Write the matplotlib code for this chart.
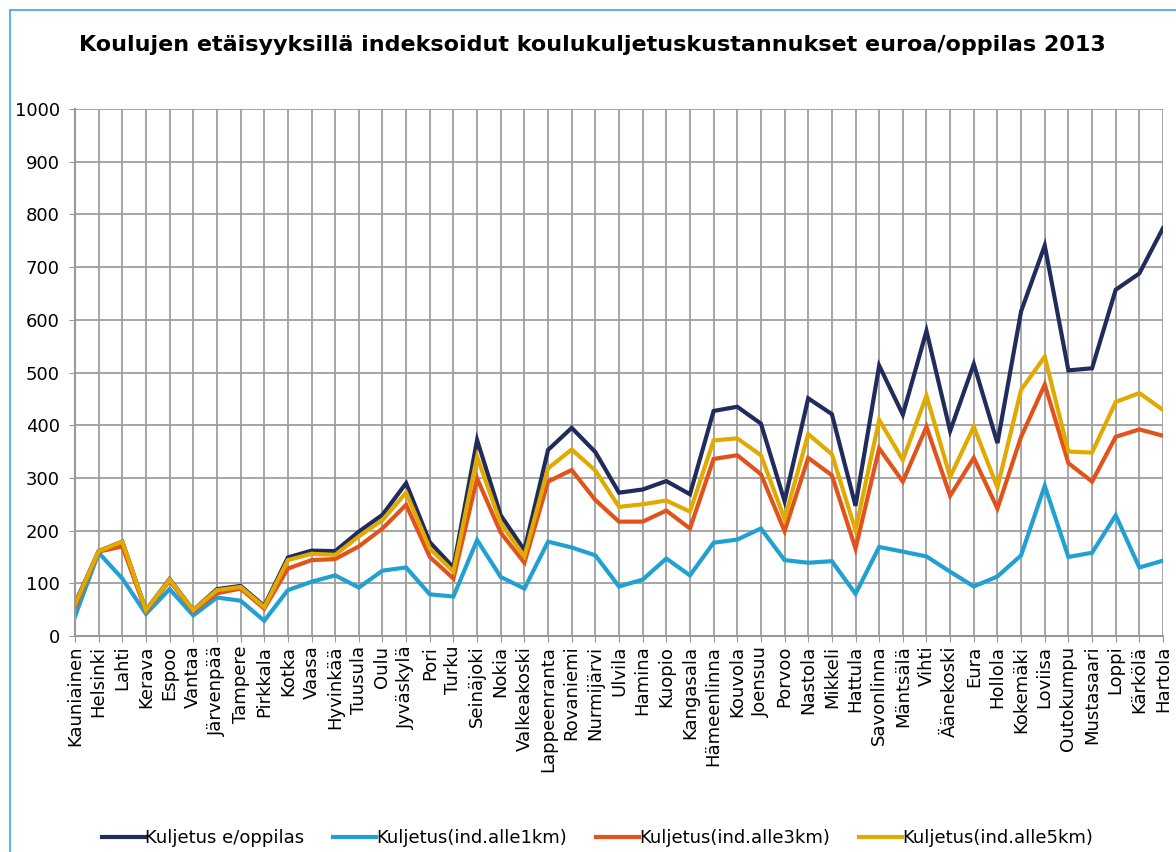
import matplotlib
matplotlib.use("Agg")
import matplotlib.pyplot as plt
from matplotlib.patches import Rectangle

kunnat = ["Kauniainen", "Helsinki", "Lahti", "Kerava", "Espoo", "Vantaa", "Järvenpää",
          "Tampere", "Pirkkala", "Kotka", "Vaasa", "Hyvinkää", "Tuusula", "Oulu",
          "Jyväskylä", "Pori", "Turku", "Seinäjoki", "Nokia", "Valkeakoski",
          "Lappeenranta", "Rovaniemi", "Nurmijärvi", "Ulvila", "Hamina", "Kuopio",
          "Kangasala", "Hämeenlinna", "Kouvola", "Joensuu", "Porvoo", "Nastola",
          "Mikkeli", "Hattula", "Savonlinna", "Mäntsälä", "Vihti", "Äänekoski", "Eura",
          "Hollola", "Kokemäki", "Loviisa", "Outokumpu", "Mustasaari", "Loppi",
          "Kärkölä", "Hartola"]

# Kuljetus e/oppilas
kuljetus = [62, 161, 179, 49, 108, 49, 89, 95, 57, 149, 162, 161, 198, 230, 290, 178,
            130, 372, 229, 163, 353, 395, 349, 272, 278, 294, 269, 427, 435, 403, 256,
            451, 421, 247, 513, 420, 579, 389, 516, 366, 616, 741, 504, 508, 657, 688, 774]
# Kuljetus(ind.alle1km)
alle1 = [37, 158, 109, 42, 89, 39, 73, 67, 29, 87, 103, 115, 92, 124, 130, 79,
         75, 182, 112, 90, 179, 168, 153, 94, 107, 147, 115, 177, 183, 204, 144,
         139, 142, 80, 169, 160, 151, 122, 94, 113, 153, 285, 150, 158, 229, 130, 143]
# Kuljetus(ind.alle3km)
alle3 = [55, 160, 170, 47, 105, 47, 81, 90, 52, 128, 144, 146, 170, 204, 249, 150,
         109, 299, 196, 139, 293, 315, 258, 217, 217, 238, 204, 336, 343, 307, 199,
         338, 305, 166, 356, 293, 397, 266, 338, 242, 378, 477, 328, 293, 378, 392, 380]
# Kuljetus(ind.alle5km)
alle5 = [60, 161, 179, 49, 107, 49, 87, 93, 55, 144, 156, 154, 189, 220, 272, 166,
         122, 340, 214, 151, 318, 354, 314, 245, 250, 257, 236, 371, 375, 343, 222,
         383, 345, 201, 410, 334, 456, 302, 397, 282, 467, 530, 350, 348, 444, 461, 429]

sarjat = [
    ("Kuljetus e/oppilas", kuljetus, "#1f2c5c"),
    ("Kuljetus(ind.alle1km)", alle1, "#21a0d2"),
    ("Kuljetus(ind.alle3km)", alle3, "#e2531b"),
    ("Kuljetus(ind.alle5km)", alle5, "#e1aa00"),
]

plt.rcParams["font.family"] = ["DejaVu Sans"]
fig = plt.figure(figsize=(11.76, 8.52), dpi=100)
ax = fig.add_axes([75 / 1176, 1 - 636 / 852, (1163 - 75) / 1176, (636 - 109) / 852])

x = list(range(len(kunnat)))
for nimi, arvot, vari in sarjat:
    ax.plot(x, arvot, color=vari, lw=3.0, label=nimi, solid_joinstyle="miter")

ax.set_xlim(0, len(kunnat) - 1)
ax.set_ylim(0, 1000)
ax.set_yticks(range(0, 1001, 100))
ax.set_xticks(x)
ax.set_xticklabels(kunnat, rotation=90, fontsize=13)
ax.tick_params(axis="y", labelsize=13, length=4, color="#999999", pad=7)
ax.tick_params(axis="x", length=4, color="#999999", pad=3)
ax.grid(True, color="#9e9e9e", lw=1.3)
ax.set_axisbelow(True)
for s in ["top", "right"]:
    ax.spines[s].set_visible(False)
for s in ["left", "bottom"]:
    ax.spines[s].set_color("#999999")
    ax.spines[s].set_linewidth(1.5)

fig.text(0.504, 1 - 45 / 852, "Koulujen etäisyyksillä indeksoidut koulukuljetuskustannukset euroa/oppilas 2013",
         ha="center", va="center", fontsize=16, fontweight="bold")

fig.legend(loc="center", bbox_to_anchor=(0.508, 1 - 838 / 852), ncol=4, frameon=False,
           fontsize=13, handlelength=2.4, handletextpad=0.0, columnspacing=1.6)

# blue chart-area border (partially visible in the original)
fig.add_artist(Rectangle((10 / 1176, -0.1), 1.2, 1 - 10 / 852 + 0.1, transform=fig.transFigure,
                         fill=False, edgecolor="#3ba7e0", lw=1.2))

fig.savefig("out.png", dpi=100)
